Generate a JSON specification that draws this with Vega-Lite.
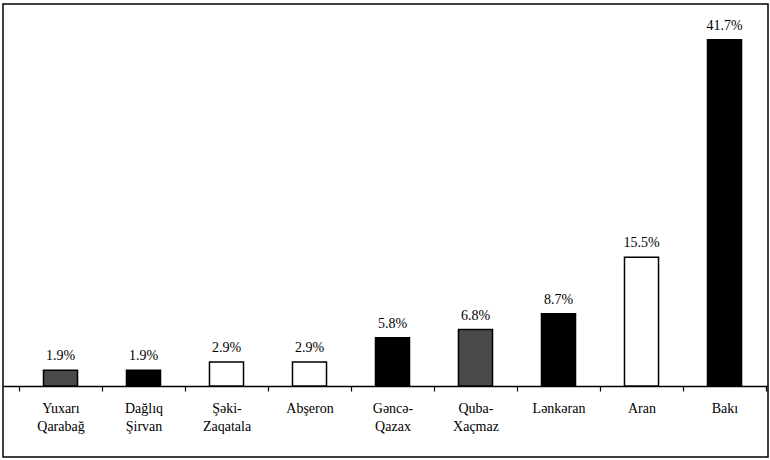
{
  "$schema": "https://vega.github.io/schema/vega-lite/v6.json",
  "autosize": "none",
  "width": 765,
  "height": 453,
  "padding": {"left": 3, "top": 4, "right": 2, "bottom": 3},
  "background": "white",
  "config": {
    "view": {"stroke": "black", "strokeWidth": 1.5},
    "font": "Times New Roman"
  },
  "data": {
    "values": [
      {"region": "Yuxarı Qarabağ", "share": 0.019, "group": "stipple"},
      {"region": "Dağlıq Şirvan", "share": 0.019, "group": "solid"},
      {"region": "Şəki-Zaqatala", "share": 0.029, "group": "open"},
      {"region": "Abşeron", "share": 0.029, "group": "open"},
      {"region": "Gəncə-Qazax", "share": 0.058, "group": "solid"},
      {"region": "Quba-Xaçmaz", "share": 0.068, "group": "stipple"},
      {"region": "Lənkəran", "share": 0.087, "group": "solid"},
      {"region": "Aran", "share": 0.155, "group": "open"},
      {"region": "Bakı", "share": 0.417, "group": "solid"}
    ]
  },
  "encoding": {
    "x": {
      "field": "region",
      "type": "nominal",
      "sort": null,
      "scale": {"paddingInner": 0, "paddingOuter": 0.1084, "align": 0.889},
      "axis": {
        "title": null,
        "orient": "bottom",
        "offset": -71,
        "labelAngle": 0,
        "labelExpr": "split(replace(datum.label, '-', '- '), ' ')",
        "labelFont": "Times New Roman",
        "labelFontSize": 14,
        "labelColor": "black",
        "labelPadding": 10,
        "labelLineHeight": 18,
        "labelBaseline": "top",
        "domainColor": "black",
        "domainWidth": 1.5,
        "tickColor": "black",
        "tickWidth": 1.2,
        "tickSize": 5,
        "tickBand": "extent",
        "grid": false
      }
    },
    "y": {
      "field": "share",
      "type": "quantitative",
      "scale": {"domain": [-0.0855, 0.46], "nice": false, "zero": false},
      "axis": null
    }
  },
  "layer": [
    {
      "mark": {"type": "bar", "width": {"band": 0.41}, "stroke": "black", "strokeWidth": 1.5},
      "encoding": {
        "y2": {"datum": 0},
        "fill": {
          "field": "group",
          "type": "nominal",
          "scale": {"domain": ["solid", "open", "stipple"], "range": ["#000000", "#ffffff", "#4a4a4a"]},
          "legend": null
        }
      }
    },
    {
      "mark": {"type": "text", "baseline": "alphabetic", "dy": -10, "font": "Times New Roman", "fontSize": 14, "color": "black"},
      "encoding": {
        "text": {"field": "share", "type": "quantitative", "format": ".1%"}
      }
    }
  ]
}
